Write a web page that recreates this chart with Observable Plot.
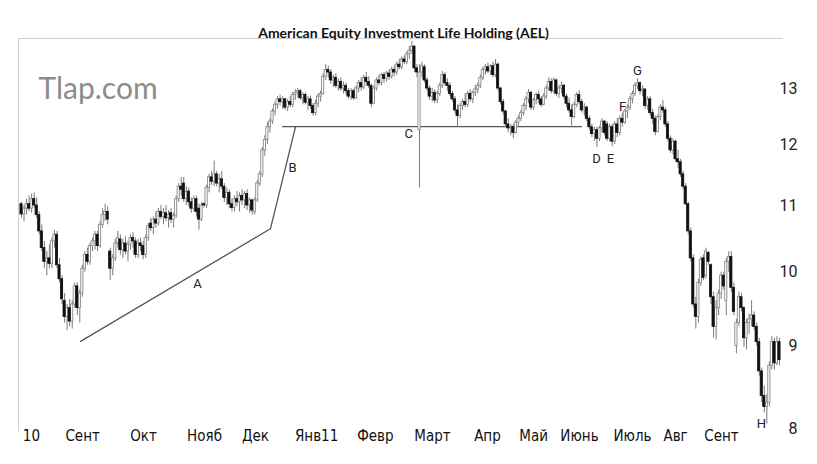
<!DOCTYPE html>
<html><head><meta charset="utf-8">
<script src="https://cdn.jsdelivr.net/npm/d3@7"></script>
<script src="https://cdn.jsdelivr.net/npm/@observablehq/plot@0.6"></script>
<style>body{margin:0;background:#fff;overflow:hidden}</style>
</head><body><div id="chart"></div>
<script>
// Daily OHLC, AEL, ~Aug 2010 – Oct 2011
const open = [
11.02,10.86,10.95,11.02,10.95,11.1,11.0,10.85,10.6,10.35,
10.15,10.2,10.12,10.45,10.55,10.1,9.9,9.6,9.38,9.5,
9.32,9.55,9.8,9.5,9.7,10.05,10.25,10.15,10.38,10.45,
10.55,10.38,10.7,10.85,10.9,10.3,10.05,10.2,10.42,10.48,
10.32,10.42,10.3,10.4,10.5,10.45,10.25,10.42,10.38,10.25,
10.5,10.72,10.65,10.78,10.72,10.9,10.82,10.88,10.8,10.88,
10.78,10.84,11.1,11.3,11.35,11.1,11.22,11.05,10.95,11.1,
10.95,10.78,11.02,11.0,11.28,11.45,11.38,11.5,11.35,11.42,
11.3,11.12,11.2,11.02,10.96,11.1,11.05,11.15,11.08,11.18,
11.0,11.08,10.9,11.08,11.35,11.5,11.9,12.08,12.3,12.4,
12.58,12.7,12.8,12.75,12.8,12.65,12.75,12.7,12.88,12.92,
12.95,12.82,12.88,12.74,12.8,12.68,12.55,12.72,12.85,12.9,
13.22,13.35,13.3,13.15,13.2,13.05,13.12,13.0,13.05,12.95,
12.85,12.95,12.82,13.0,13.1,13.02,13.2,13.12,13.05,12.72,
13.0,13.15,13.1,13.25,13.18,13.28,13.22,13.35,13.3,13.45,
13.4,13.55,13.5,13.65,13.72,13.8,13.38,12.25,13.3,13.4,
13.15,13.0,12.85,12.92,12.78,12.9,13.05,13.25,13.1,13.05,
12.9,12.8,12.6,12.5,12.68,12.75,12.7,12.9,12.8,12.92,
12.98,13.05,13.2,13.35,13.4,13.32,13.42,13.25,13.45,13.0,
12.75,12.58,12.35,12.28,12.3,12.2,12.38,12.45,12.55,12.68,
12.8,12.92,12.65,12.78,12.88,12.8,12.7,12.85,13.0,13.12,
12.95,13.15,12.9,13.0,13.05,12.85,12.72,12.6,12.48,12.7,
12.88,12.75,12.6,12.65,12.45,12.3,12.18,12.25,12.1,12.28,
12.4,12.35,12.1,12.3,12.05,12.35,12.2,12.45,12.38,12.58,
12.65,12.8,12.9,13.05,13.1,12.95,12.98,12.68,12.8,12.55,
12.45,12.22,12.48,12.65,12.6,12.35,12.1,11.9,12.05,11.75,
11.7,11.5,11.3,11.02,10.6,10.2,9.55,9.38,9.85,10.2,
9.95,10.28,10.1,9.65,9.25,9.5,9.7,9.95,9.6,10.15,
10.22,9.78,9.0,9.3,9.65,9.5,9.1,9.3,9.35,9.4,
9.25,9.05,8.68,8.38,8.25,8.3,8.75,9.05,8.78,9.05];
const high = [
11.05,11.0,11.1,11.15,11.18,11.2,11.12,10.9,10.7,10.45,
10.3,10.4,10.5,10.62,10.6,10.2,9.95,9.7,9.55,9.62,
9.6,9.85,9.85,9.75,10.1,10.3,10.35,10.42,10.5,10.6,
10.6,10.75,10.95,11.02,10.98,10.35,10.25,10.48,10.6,10.55,
10.48,10.52,10.45,10.55,10.58,10.5,10.48,10.5,10.45,10.55,
10.72,10.8,10.82,10.9,10.95,11.0,10.95,11.0,10.92,10.95,
10.88,11.15,11.35,11.45,11.45,11.3,11.28,11.12,11.15,11.15,
11.02,11.05,11.05,11.32,11.5,11.55,11.72,11.55,11.5,11.55,
11.35,11.28,11.25,11.1,11.15,11.22,11.2,11.25,11.22,11.25,
11.12,11.1,11.12,11.4,11.55,11.95,12.15,12.38,12.45,12.62,
12.75,12.85,12.88,12.85,12.82,12.8,12.85,12.92,12.98,13.0,
12.98,12.92,12.92,12.85,12.86,12.72,12.78,12.9,12.95,13.28,
13.45,13.42,13.35,13.25,13.28,13.18,13.2,13.12,13.1,13.0,
13.0,12.98,13.05,13.15,13.2,13.25,13.3,13.22,13.08,13.05,
13.2,13.25,13.28,13.3,13.32,13.35,13.4,13.42,13.5,13.55,
13.6,13.62,13.7,13.8,13.9,13.82,13.45,13.45,13.5,13.45,
13.2,13.05,13.0,12.98,12.95,13.1,13.32,13.3,13.18,13.1,
12.95,12.85,12.7,12.72,12.8,12.9,12.95,12.98,12.95,13.05,
13.1,13.25,13.4,13.45,13.48,13.45,13.5,13.55,13.48,13.02,
12.8,12.6,12.45,12.35,12.35,12.42,12.5,12.6,12.72,12.85,
12.98,12.95,12.82,12.92,12.95,12.85,12.9,13.05,13.2,13.18,
13.2,13.18,13.05,13.12,13.08,12.9,12.82,12.7,12.75,12.92,
12.96,12.8,12.72,12.68,12.5,12.35,12.3,12.3,12.32,12.45,
12.42,12.4,12.35,12.35,12.4,12.45,12.5,12.55,12.62,12.7,
12.85,12.95,13.1,13.18,13.12,13.05,13.0,12.85,12.85,12.62,
12.5,12.52,12.7,12.78,12.65,12.4,12.15,12.1,12.08,11.9,
11.75,11.55,11.35,11.05,10.65,10.25,9.65,9.9,10.22,10.25,
10.35,10.3,10.12,9.72,9.6,9.75,10.0,10.0,10.2,10.3,
10.3,9.85,9.35,9.72,9.7,9.52,9.35,9.42,9.6,9.45,
9.3,9.1,8.72,8.5,8.4,8.8,9.12,9.1,9.12,9.1];
const low = [
10.8,10.75,10.85,10.9,10.88,10.95,10.8,10.55,10.3,10.05,
9.95,10.05,10.05,10.35,10.05,9.85,9.55,9.3,9.2,9.25,
9.22,9.5,9.4,9.3,9.65,10.0,10.1,10.1,10.3,10.32,
10.3,10.35,10.65,10.75,10.7,9.88,9.95,10.15,10.35,10.25,
10.2,10.25,10.15,10.32,10.35,10.2,10.2,10.3,10.18,10.2,
10.45,10.6,10.55,10.65,10.68,10.78,10.7,10.75,10.65,10.72,
10.65,10.8,11.05,11.15,11.05,11.0,10.98,10.88,10.9,10.82,
10.62,10.75,10.96,10.95,11.2,11.32,11.3,11.3,11.2,11.25,
11.05,11.0,10.95,10.9,10.9,10.98,10.9,11.0,10.95,10.92,
10.88,10.85,10.85,11.05,11.3,11.45,11.8,12.0,12.2,12.35,
12.5,12.62,12.68,12.62,12.6,12.58,12.65,12.65,12.78,12.82,
12.78,12.7,12.7,12.6,12.62,12.5,12.5,12.65,12.75,12.88,
13.15,13.2,13.08,13.02,13.0,12.95,12.95,12.9,12.88,12.8,
12.78,12.78,12.8,12.92,12.95,12.98,13.05,13.0,12.65,12.7,
12.95,13.05,13.05,13.1,13.12,13.15,13.18,13.22,13.25,13.35,
13.35,13.45,13.45,13.55,13.65,13.3,13.2,11.28,13.2,13.1,
12.95,12.78,12.75,12.72,12.72,12.85,13.0,13.05,12.95,12.85,
12.75,12.55,12.3,12.45,12.6,12.65,12.65,12.75,12.72,12.85,
12.9,13.0,13.15,13.25,13.28,13.25,13.2,13.2,12.95,12.7,
12.52,12.3,12.2,12.15,12.1,12.18,12.3,12.4,12.5,12.6,
12.72,12.6,12.6,12.7,12.72,12.65,12.68,12.8,12.95,12.9,
12.9,12.85,12.82,12.9,12.8,12.65,12.55,12.32,12.45,12.65,
12.7,12.55,12.5,12.4,12.25,12.12,12.05,11.95,12.05,12.2,
12.15,12.05,12.05,11.96,12.0,12.12,12.15,12.3,12.35,12.45,
12.6,12.72,12.85,12.98,12.88,12.85,12.62,12.6,12.5,12.35,
12.15,12.2,12.42,12.55,12.3,12.05,11.85,11.82,11.7,11.6,
11.45,11.25,11.0,10.55,10.15,9.5,9.22,9.3,9.8,9.88,
9.9,10.1,9.55,9.1,9.08,9.4,9.62,9.75,9.4,10.0,
9.72,9.4,8.9,9.25,9.45,8.98,8.95,9.15,9.25,9.2,
9.0,8.62,8.3,8.18,8.05,8.25,8.7,8.7,8.75,8.75];
const close = [
10.86,10.95,11.02,10.95,11.1,11.0,10.85,10.6,10.35,10.15,
10.2,10.12,10.45,10.55,10.1,9.9,9.62,9.38,9.5,9.32,
9.55,9.8,9.5,9.7,10.05,10.25,10.15,10.38,10.45,10.55,
10.38,10.7,10.85,10.9,10.78,10.05,10.2,10.42,10.5,10.32,
10.42,10.3,10.4,10.5,10.45,10.25,10.42,10.38,10.25,10.5,
10.68,10.65,10.78,10.72,10.9,10.82,10.88,10.8,10.85,10.78,
10.84,11.1,11.3,11.25,11.1,11.22,11.05,10.95,11.1,10.9,
10.78,11.0,11.0,11.28,11.45,11.38,11.5,11.35,11.42,11.3,
11.12,11.2,11.02,10.96,11.1,11.05,11.15,11.08,11.18,11.0,
11.08,10.92,11.08,11.35,11.5,11.9,12.08,12.3,12.4,12.58,
12.7,12.8,12.75,12.8,12.65,12.75,12.7,12.88,12.92,12.95,
12.82,12.88,12.74,12.8,12.68,12.55,12.72,12.85,12.9,13.22,
13.35,13.3,13.15,13.2,13.05,13.12,13.0,13.05,12.95,12.85,
12.95,12.82,13.0,13.1,13.02,13.2,13.12,13.05,12.72,13.0,
13.15,13.1,13.25,13.18,13.28,13.22,13.35,13.3,13.45,13.4,
13.55,13.5,13.65,13.72,13.8,13.38,13.3,13.3,13.42,13.15,
13.0,12.85,12.92,12.78,12.9,13.05,13.25,13.1,13.05,12.9,
12.8,12.6,12.5,12.68,12.75,12.7,12.9,12.8,12.92,12.98,
13.05,13.2,13.35,13.4,13.32,13.42,13.25,13.45,13.0,12.75,
12.58,12.35,12.28,12.3,12.2,12.38,12.45,12.55,12.68,12.8,
12.92,12.65,12.78,12.88,12.8,12.7,12.85,13.0,13.12,12.95,
13.15,12.9,13.0,13.05,12.85,12.72,12.6,12.48,12.7,12.88,
12.75,12.6,12.65,12.45,12.3,12.18,12.25,12.1,12.28,12.4,
12.2,12.1,12.3,12.05,12.35,12.2,12.45,12.38,12.58,12.65,
12.8,12.9,13.05,13.1,12.95,12.98,12.68,12.8,12.55,12.45,
12.22,12.48,12.65,12.6,12.35,12.1,11.9,12.05,11.75,11.7,
11.5,11.3,11.02,10.6,10.2,9.55,9.38,9.85,10.18,9.92,
10.3,10.15,9.65,9.25,9.5,9.7,9.95,9.8,10.15,10.22,
9.78,9.45,9.3,9.65,9.5,9.1,9.3,9.35,9.4,9.25,
9.05,8.68,8.38,8.25,8.3,8.75,9.05,8.78,9.05,8.82];

// month tick labels and their positions (trading-day index)
const monthLabels = ["10","Сент","Окт","Нояб","Дек","Янв11","Февр","Март","Апр","Май","Июнь","Июль","Авг","Сент"];
const monthIndex  = [3.9,24.1,48.1,72.2,92.3,116.4,139.6,162.1,183.8,202.0,220.1,241.0,258.0,276.1];
const yTicks = [8,9,10,11,12,13];

// annotations
const trendIdx   = [23.3, 98.2, 108.1];
const trendPrice = [9.06, 10.64, 12.31];
const necklinePrice = 12.31;
const necklineFrom = 103, necklineTo = 221.3;
const noteText  = ["A","B","C","D","E","F","G","H"];
const noteIdx   = [69.4,106.9,152.7,226.8,232.3,237.1,243.0,291.9];
const notePrice = [9.84,11.6,12.19,11.76,11.76,12.67,13.34,8.05];

const title = "American Equity Investment Life Holding (AEL)";

const candles = open.map((o, i) => ({i, o, h: high[i], l: low[i], c: close[i]}));
const trend = trendIdx.map((x, k) => ({x, p: trendPrice[k]}));
const notes = noteText.map((t, k) => ({t, x: noteIdx[k], p: notePrice[k]}));
const months = monthLabels.map((t, k) => ({t, x: monthIndex[k]}));

const narrow = "'Liberation Sans Narrow','DejaVu Sans Condensed','Roboto Condensed',Roboto,sans-serif";

const chart = Plot.plot({
  width: 817, height: 464,
  marginTop: 38, marginLeft: 18, marginRight: 35, marginBottom: 34,
  x: {type: "linear", domain: [0, 299], range: [21, 779], axis: null},
  y: {type: "log", domain: [8, 13], range: [428, 88], axis: null},
  style: {fontFamily: "Roboto, 'Liberation Sans', sans-serif", background: "#fff", color: "#111"},
  marks: [
    Plot.frame({anchor: "top", stroke: "#cfcfcf"}),
    Plot.frame({anchor: "left", stroke: "#cfcfcf"}),
    Plot.line(trend, {x: "x", y: "p", stroke: "#555", strokeWidth: 1.3}),
    Plot.ruleY([necklinePrice], {x1: necklineFrom, x2: necklineTo, stroke: "#555", strokeWidth: 1.3}),
    Plot.ruleX(candles, {x: "i", y1: "l", y2: "h", stroke: "#7a7a7a", strokeWidth: 1}),
    Plot.rect(candles.filter(d => d.c >= d.o), {x1: d => d.i - 0.43, x2: d => d.i + 0.43, y1: "o", y2: "c", fill: "#fff", stroke: "#8a8a8a", strokeWidth: 0.9}),
    Plot.rect(candles.filter(d => d.c < d.o), {x1: d => d.i - 0.43, x2: d => d.i + 0.43, y1: "o", y2: "c", fill: "#111", stroke: "#111", strokeWidth: 0.8}),
    Plot.text(notes, {x: "x", y: "p", text: "t", fontSize: 13, fill: "#222"}),
    Plot.text(yTicks, {y: d => d, text: d => String(d), frameAnchor: "right", dx: 15, textAnchor: "end", fontSize: 16, fill: "#222"}),
    Plot.text(months, {x: "x", text: "t", frameAnchor: "bottom", dy: 10, fontSize: 15, fill: "#111", fontFamily: narrow}),
    Plot.text([title], {frameAnchor: "top", dx: 3, dy: -10, fontSize: 14, fontWeight: "bold", fill: "#111", fontFamily: "Lato, sans-serif"}),
    Plot.text(["Tlap.com"], {frameAnchor: "top-left", dx: 20, dy: 39, textAnchor: "start", fontSize: 30, fill: "#8c8c8c", fontFamily: "Lato, sans-serif"})
  ]
});
document.getElementById("chart").appendChild(chart);
</script>
</body></html>
